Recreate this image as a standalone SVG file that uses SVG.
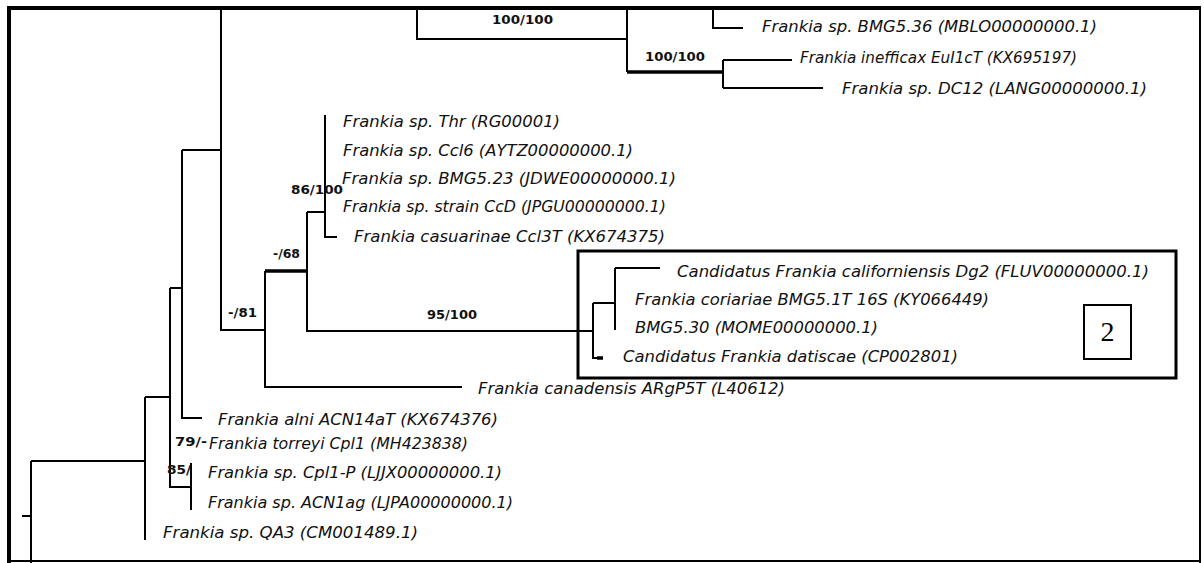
<svg xmlns="http://www.w3.org/2000/svg" width="1204" height="563" viewBox="0 0 1204 563">
<style>
.br{fill:none;stroke:#000;stroke-width:2;stroke-linejoin:miter}
.th{fill:none;stroke:#000;stroke-width:3.5}
.lf{font-family:"DejaVu Sans Condensed","Liberation Sans",sans-serif;font-style:italic;font-size:16px;fill:#111;dominant-baseline:central}
.bs{font-family:"DejaVu Sans Condensed","Liberation Sans",sans-serif;font-weight:bold;font-size:12px;fill:#111;dominant-baseline:central}
</style>
<rect width="1204" height="563" fill="#fff"/>
<g id="frame" fill="none" stroke="#000">
<line x1="7" y1="8" x2="1201" y2="8" stroke-width="4"/>
<line x1="9" y1="6" x2="9" y2="563" stroke-width="4"/>
<line x1="1200" y1="8" x2="1200" y2="563" stroke-width="2"/>
<line x1="9" y1="561" x2="1201" y2="561" stroke-width="2"/>
</g>
<g id="connectors">
<path class="br" d="M417 10 V39 H627 M627 10 V72 M723 60 V88 M723 60 H792 M723 88 H823 M713 10 V28 H743"/>
<path class="th" d="M627 72 H723"/>
<path class="br" d="M221 10 V330 H265 M182 150 H221 M182 150 V418 H202 M170 288 H182 M170 288 V487 H191 M145 397 H170 M145 397 V540 M31 461 V563 M22 516 H31 M191 463 V510"/>
<path class="br" d="M31 461 H145" stroke-width="2.5"/>
<path class="br" d="M265 271 V387 H462 M307 212 V331 H593 M307 212 H325 M325 115 V237 H337"/>
<path class="th" d="M265 271 H307"/>
<path class="br" d="M593 303 V358 H600 M593 303 H615 M615 268 V330 M615 268 H660"/>
<path class="th" d="M597 358 H603"/>
</g>
<g id="support">
<text class="bs" x="492" y="20" textLength="61" lengthAdjust="spacingAndGlyphs">100/100</text>
<text class="bs" x="645" y="57" textLength="60" lengthAdjust="spacingAndGlyphs">100/100</text>
<text class="bs" x="291" y="190" textLength="52" lengthAdjust="spacingAndGlyphs">86/100</text>
<text class="bs" x="273" y="254" textLength="27" lengthAdjust="spacingAndGlyphs">-/68</text>
<text class="bs" x="228" y="313" textLength="29" lengthAdjust="spacingAndGlyphs">-/81</text>
<text class="bs" x="427" y="315" textLength="50" lengthAdjust="spacingAndGlyphs">95/100</text>
<text class="bs" x="175" y="442" textLength="32" lengthAdjust="spacingAndGlyphs">79/-</text>
<text class="bs" x="167" y="470" textLength="24" lengthAdjust="spacingAndGlyphs">85/</text>
</g>
<g id="leaf-bmg536"><text class="lf" x="762" y="26" textLength="335" lengthAdjust="spacingAndGlyphs">Frankia sp. BMG5.36 (MBLO00000000.1)</text></g>
<g id="leaf-inefficax"><text class="lf" x="800" y="57" textLength="277" lengthAdjust="spacingAndGlyphs">Frankia inefficax EuI1cT (KX695197)</text></g>
<g id="leaf-dc12"><text class="lf" x="842" y="88" textLength="305" lengthAdjust="spacingAndGlyphs">Frankia sp. DC12 (LANG00000000.1)</text></g>
<g id="leaf-thr"><text class="lf" x="343" y="121" textLength="217" lengthAdjust="spacingAndGlyphs">Frankia sp. Thr (RG00001)</text></g>
<g id="leaf-ccl6"><text class="lf" x="343" y="150" textLength="290" lengthAdjust="spacingAndGlyphs">Frankia sp. Ccl6 (AYTZ00000000.1)</text></g>
<g id="leaf-bmg523"><text class="lf" x="342" y="178" textLength="334" lengthAdjust="spacingAndGlyphs">Frankia sp. BMG5.23 (JDWE00000000.1)</text></g>
<g id="leaf-ccd"><text class="lf" x="343" y="206" textLength="323" lengthAdjust="spacingAndGlyphs">Frankia sp. strain CcD (JPGU00000000.1)</text></g>
<g id="leaf-casuarinae"><text class="lf" x="354" y="236" textLength="311" lengthAdjust="spacingAndGlyphs">Frankia casuarinae Ccl3T (KX674375)</text></g>
<g id="clade-box">
<rect x="578" y="251" width="598" height="127" fill="none" stroke="#000" stroke-width="3"/>
</g>
<g id="leaf-californiensis"><text class="lf" x="677" y="271" textLength="472" lengthAdjust="spacingAndGlyphs">Candidatus Frankia californiensis Dg2 (FLUV00000000.1)</text></g>
<g id="leaf-coriariae"><text class="lf" x="635" y="299" textLength="354" lengthAdjust="spacingAndGlyphs">Frankia coriariae BMG5.1T 16S (KY066449)</text></g>
<g id="leaf-bmg530"><text class="lf" x="635" y="327" textLength="243" lengthAdjust="spacingAndGlyphs">BMG5.30 (MOME00000000.1)</text></g>
<g id="leaf-datiscae"><text class="lf" x="623" y="356" textLength="335" lengthAdjust="spacingAndGlyphs">Candidatus Frankia datiscae (CP002801)</text></g>
<g id="label-2">
<rect x="1084" y="305" width="47" height="54" fill="#fff" stroke="#000" stroke-width="2"/>
<text x="1107.5" y="341" text-anchor="middle" font-family="Liberation Serif, serif" font-size="28">2</text>
</g>
<g id="leaf-canadensis"><text class="lf" x="478" y="388" textLength="307" lengthAdjust="spacingAndGlyphs">Frankia canadensis ARgP5T (L40612)</text></g>
<g id="leaf-alni"><text class="lf" x="218" y="419" textLength="280" lengthAdjust="spacingAndGlyphs">Frankia alni ACN14aT (KX674376)</text></g>
<g id="leaf-torreyi"><text class="lf" x="209" y="443" textLength="259" lengthAdjust="spacingAndGlyphs">Frankia torreyi Cpl1 (MH423838)</text></g>
<g id="leaf-cpl1p"><text class="lf" x="208" y="472" textLength="294" lengthAdjust="spacingAndGlyphs">Frankia sp. Cpl1-P (LJJX00000000.1)</text></g>
<g id="leaf-acn1ag"><text class="lf" x="208" y="502" textLength="305" lengthAdjust="spacingAndGlyphs">Frankia sp. ACN1ag (LJPA00000000.1)</text></g>
<g id="leaf-qa3"><text class="lf" x="163" y="532" textLength="255" lengthAdjust="spacingAndGlyphs">Frankia sp. QA3 (CM001489.1)</text></g>
</svg>
